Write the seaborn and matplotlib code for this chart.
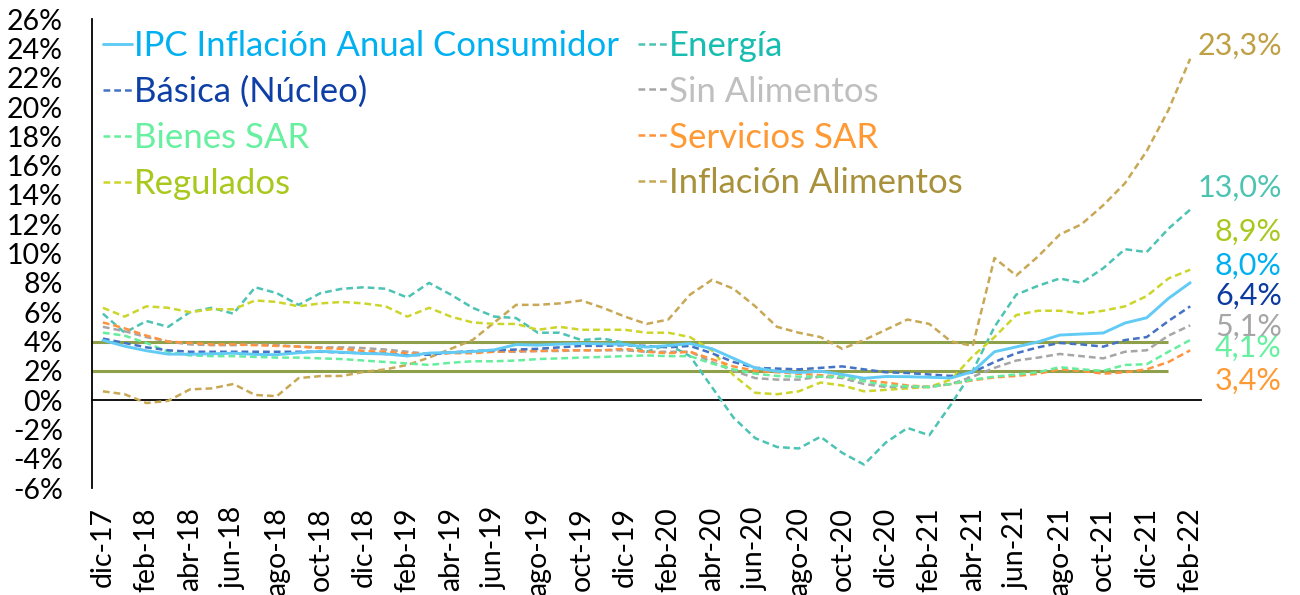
import numpy as np
import pandas as pd
import seaborn as sns
import matplotlib.pyplot as plt
from matplotlib.lines import Line2D
from matplotlib.transforms import blended_transform_factory

# -------------------------------
# Datos (variación anual, %)
# -------------------------------
meses = ["dic-17", "ene-18", "feb-18", "mar-18", "abr-18", "may-18", "jun-18", "jul-18",
         "ago-18", "sep-18", "oct-18", "nov-18", "dic-18", "ene-19", "feb-19", "mar-19",
         "abr-19", "may-19", "jun-19", "jul-19", "ago-19", "sep-19", "oct-19", "nov-19",
         "dic-19", "ene-20", "feb-20", "mar-20", "abr-20", "may-20", "jun-20", "jul-20",
         "ago-20", "sep-20", "oct-20", "nov-20", "dic-20", "ene-21", "feb-21", "mar-21",
         "abr-21", "may-21", "jun-21", "jul-21", "ago-21", "sep-21", "oct-21", "nov-21",
         "dic-21", "ene-22", "feb-22"]

ipc = [4.09, 3.68, 3.37, 3.14, 3.13, 3.16, 3.20, 3.12, 3.10, 3.23, 3.33, 3.27, 3.18,
       3.15, 3.01, 3.21, 3.25, 3.31, 3.43, 3.79, 3.75, 3.82, 3.86, 3.84, 3.80, 3.62,
       3.72, 3.86, 3.51, 2.85, 2.19, 1.97, 1.88, 1.97, 1.75, 1.49, 1.61, 1.60, 1.56,
       1.51, 1.95, 3.30, 3.63, 3.97, 4.44, 4.51, 4.58, 5.26, 5.62, 6.94, 8.01]
basica = [4.2, 3.9, 3.6, 3.4, 3.3, 3.3, 3.3, 3.3, 3.3, 3.3, 3.3, 3.25, 3.2, 3.15, 3.05,
          3.1, 3.25, 3.35, 3.4, 3.45, 3.5, 3.6, 3.7, 3.7, 3.75, 3.7, 3.6, 3.7, 3.2, 2.6,
          2.2, 2.15, 2.1, 2.2, 2.3, 2.1, 1.9, 1.85, 1.75, 1.65, 1.9, 2.6, 3.2, 3.6, 3.9,
          3.8, 3.65, 4.1, 4.3, 5.4, 6.4]
bienes_sar = [4.6, 4.4, 3.9, 3.3, 3.05, 3.0, 3.0, 2.95, 2.9, 2.9, 2.85, 2.8, 2.7, 2.6,
              2.5, 2.4, 2.55, 2.65, 2.65, 2.7, 2.8, 2.85, 2.9, 2.95, 3.0, 3.05, 3.0, 3.0,
              2.5, 2.1, 1.8, 1.65, 1.6, 1.6, 1.6, 1.3, 1.0, 0.95, 0.9, 1.1, 1.4, 1.6,
              1.75, 1.9, 2.25, 2.1, 2.0, 2.4, 2.45, 3.3, 4.1]
regulados = [6.3, 5.7, 6.4, 6.3, 6.0, 6.2, 6.2, 6.8, 6.7, 6.4, 6.6, 6.7, 6.6, 6.4, 5.7,
             6.3, 5.7, 5.3, 5.2, 5.2, 4.8, 5.0, 4.8, 4.8, 4.8, 4.6, 4.6, 4.3, 3.4, 1.7,
             0.5, 0.4, 0.6, 1.2, 1.0, 0.6, 0.7, 0.8, 0.9, 1.4, 3.0, 4.3, 5.8, 6.1, 6.1,
             5.9, 6.1, 6.4, 7.1, 8.3, 8.9]
energia = [5.9, 4.6, 5.4, 5.0, 6.0, 6.3, 5.9, 7.7, 7.3, 6.5, 7.3, 7.6, 7.7, 7.6, 7.0,
           8.0, 7.2, 6.3, 5.7, 5.6, 4.6, 4.6, 4.1, 4.2, 3.9, 3.3, 3.8, 3.0, 0.9, -1.2,
           -2.6, -3.2, -3.3, -2.5, -3.6, -4.4, -2.9, -1.9, -2.4, -0.3, 2.0, 5.0, 7.2,
           7.8, 8.3, 8.0, 9.0, 10.3, 10.1, 11.7, 13.0]
sin_alimentos = [5.0, 4.7, 4.3, 4.0, 3.8, 3.75, 3.75, 3.8, 3.75, 3.65, 3.6, 3.6, 3.55,
                 3.45, 3.3, 3.15, 3.25, 3.3, 3.3, 3.3, 3.35, 3.35, 3.4, 3.4, 3.4, 3.3,
                 3.3, 3.3, 2.6, 2.0, 1.5, 1.4, 1.4, 1.6, 1.5, 1.1, 0.9, 0.9, 0.9, 1.1,
                 1.6, 2.2, 2.7, 2.9, 3.15, 3.0, 2.85, 3.3, 3.4, 4.4, 5.1]
servicios_sar = [5.3, 4.9, 4.4, 4.0, 3.9, 3.8, 3.8, 3.75, 3.7, 3.65, 3.55, 3.5, 3.35,
                 3.3, 3.2, 3.15, 3.2, 3.2, 3.3, 3.35, 3.35, 3.4, 3.4, 3.4, 3.5, 3.3,
                 3.2, 3.3, 2.8, 2.3, 2.0, 1.9, 1.8, 1.7, 1.6, 1.35, 1.2, 1.0, 0.9, 1.1,
                 1.35, 1.55, 1.65, 1.8, 2.1, 2.0, 1.8, 1.9, 2.1, 2.6, 3.4]
alimentos = [0.6, 0.4, -0.2, -0.05, 0.73, 0.8, 1.1, 0.35, 0.27, 1.5, 1.64, 1.65, 1.93,
             2.1, 2.4, 2.9, 3.5, 4.1, 5.3, 6.5, 6.5, 6.6, 6.8, 6.3, 5.7, 5.2, 5.5, 7.2,
             8.2, 7.6, 6.4, 5.0, 4.6, 4.3, 3.5, 4.1, 4.8, 5.5, 5.2, 4.0, 3.7, 9.7, 8.5,
             9.8, 11.3, 12.0, 13.3, 14.8, 17.0, 19.8, 23.3]

# rango meta del banco central
meta = [2, 4]

nombres = ["IPC Inflación Anual Consumidor", "Básica (Núcleo)", "Bienes SAR", "Regulados",
           "Energía", "Sin Alimentos", "Servicios SAR", "Inflación Alimentos"]
valores = [ipc, basica, bienes_sar, regulados, energia, sin_alimentos, servicios_sar, alimentos]

# posicion vertical de las etiquetas del ultimo dato
etiqueta_y = [9.2, 7.1, 3.6, 11.5, 14.5, 5.0, 1.3, 24.2]

# -------------------------------
# Estilos
# -------------------------------
color_linea = ["#62CBF5", "#4472C4", "#66EE9E", "#CCD52A",
               "#4DC3B4", "#A6A6A6", "#FF9340", "#C8A855"]
color_texto = ["#00B0F0", "#0D3FA6", "#66F0A0", "#A8C81E",
               "#17BDB0", "#BFBFBF", "#FF9933", "#A8913A"]
color_etiqueta = ["#00B0F0", "#0B3BA0", "#66F0A0", "#A8C81E",
                  "#4DC4B2", "#A6A6A6", "#FF9933", "#BFA045"]

df = pd.DataFrame(dict(zip(nombres, valores)))
df["idx"] = np.arange(len(meses))

sns.set_theme(style="white")
plt.rcParams["font.family"] = ["Lato", "DejaVu Sans"]

fig = plt.figure(figsize=(13, 5.95), dpi=100)
ax = fig.add_axes([0.0708, 0.1798, 0.8531, 0.788])

# bandas meta
ax.hlines(meta, -0.5, len(meses) - 2, color="#8FA04A", linewidth=2.2, zorder=1)

# series (dibujo: alimentos y energia primero)
orden = [7, 4, 3, 5, 6, 2, 1, 0]
for i in orden:
    sns.lineplot(data=df, x="idx", y=nombres[i], ax=ax, color=color_linea[i],
                 linewidth=2.1 if i == 0 else 1.8, legend=False, zorder=3)
    if i != 0:
        ax.lines[-1].set_dashes((2.7, 1.6))

# etiquetas al final
trans = blended_transform_factory(fig.transFigure, ax.transData)
for i in range(len(nombres)):
    ultimo = valores[i][-1]
    ax.text(0.986, etiqueta_y[i], f"{ultimo:.1f}%".replace(".", ","), transform=trans,
            ha="right", va="center", fontsize=22, color=color_etiqueta[i], clip_on=False)

# ejes
ax.set_xlim(-0.5, len(meses) - 0.5)
ax.set_ylim(-6, 26)
ax.set_xlabel("")
ax.set_ylabel("")

ax.set_yticks(np.arange(-6, 27, 2))
ax.set_yticklabels([f"{v}%" for v in range(-6, 27, 2)])
ax.tick_params(axis="y", length=0, pad=21, labelsize=20.5, colors="black")

ax.set_xticks(np.arange(0, len(meses), 2))
ax.set_xticklabels(meses[::2])
ax.set_xticks(np.arange(-0.5, len(meses) - 1, 2), minor=True)
ax.tick_params(axis="x", which="major", length=0, pad=77, labelsize=20.5,
               labelrotation=90, colors="black")
ax.tick_params(axis="x", which="minor", length=7, width=1.2, direction="out", color="black")

ax.spines["bottom"].set_position(("data", 0))
ax.spines["top"].set_visible(False)
ax.spines["right"].set_visible(False)
for s in ["left", "bottom"]:
    ax.spines[s].set_color("black")
    ax.spines[s].set_linewidth(1.3)
ax.grid(False)

# leyenda
handles = [Line2D([0], [0], color=color_linea[i], linewidth=2.1 if i == 0 else 1.8,
                  dashes=() if i == 0 else (2.7, 1.6)) for i in range(len(nombres))]
leg = fig.legend(handles, nombres, loc="upper left", bbox_to_anchor=(0.079, 0.95),
                 ncol=2, frameon=False, fontsize=25, handlelength=0.85,
                 handletextpad=0.05, columnspacing=0.55, labelspacing=0.4,
                 borderpad=0, borderaxespad=0)
for t, c in zip(leg.get_texts(), color_texto):
    t.set_color(c)

fig.savefig("out.png", dpi=100)
